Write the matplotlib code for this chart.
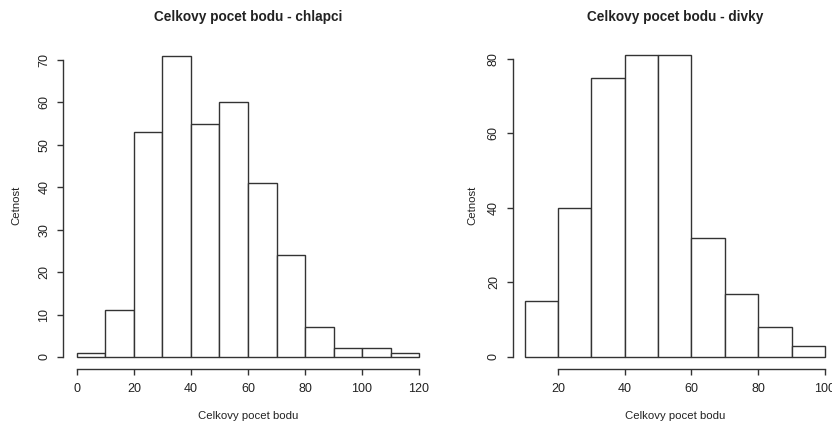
import matplotlib
matplotlib.use("Agg")
from matplotlib import pyplot as plt
import numpy as np

plt.rcParams['font.family'] = ['Liberation Sans', 'DejaVu Sans']

# histogram counts (bins of width 10)
boys_edges = [0, 10, 20, 30, 40, 50, 60, 70, 80, 90, 100, 110, 120]
boys_counts = [1, 11, 53, 71, 55, 60, 41, 24, 7, 2, 2, 1]
boys_xticks = [0, 20, 40, 60, 80, 100, 120]
boys_yticks = [0, 10, 20, 30, 40, 50, 60, 70]

girls_edges = [10, 20, 30, 40, 50, 60, 70, 80, 90, 100]
girls_counts = [15, 40, 75, 81, 81, 32, 17, 8, 3]
girls_xticks = [20, 40, 60, 80, 100]
girls_yticks = [0, 20, 40, 60, 80]

W, H = 832, 423
fig = plt.figure(figsize=(W / 100, H / 100), dpi=100)
fig.patch.set_facecolor('white')

txt_col = '#222222'
line_col = '#333333'


def r_hist(box, edges, counts, xticks, yticks, title, ylab_x):
    # box in pixels: left, top, right, bottom of R plot region
    l, t, r, b = box
    ax = fig.add_axes([l / W, 1 - b / H, (r - l) / W, (b - t) / H])
    edges = np.asarray(edges)
    widths = np.diff(edges)
    ax.bar(edges[:-1], counts, width=widths, align='edge', color='white',
           edgecolor=line_col, linewidth=1.0)
    xr = edges[-1] - edges[0]
    ax.set_xlim(edges[0] - 0.04 * xr, edges[-1] + 0.04 * xr)
    ymax = max(counts)
    ax.set_ylim(-0.04 * ymax, ymax * 1.04)
    for s in ['top', 'right']:
        ax.spines[s].set_visible(False)
    ax.spines['left'].set_bounds(yticks[0], yticks[-1])
    ax.spines['bottom'].set_bounds(xticks[0], xticks[-1])
    for s in ['left', 'bottom']:
        ax.spines[s].set_color(line_col)
        ax.spines[s].set_linewidth(1.0)
    ax.set_xticks(xticks)
    ax.set_yticks(yticks)
    ax.set_yticklabels([str(v) for v in yticks], rotation=90, va='center')
    ax.tick_params(axis='x', length=4.2, width=1.0, color=line_col, pad=6,
                   labelsize=9, labelcolor=txt_col)
    ax.tick_params(axis='y', length=4.2, width=1.0, color=line_col, pad=5,
                   labelsize=9, labelcolor=txt_col)
    cx = (l + r) / 2
    fig.text(cx / W, 1 - 17 / H, title, ha='center', va='center',
             fontsize=9.8, fontweight='bold', color=txt_col)
    fig.text(cx / W, 1 - 416 / H, 'Celkovy pocet bodu', ha='center',
             va='center', fontsize=8.2, color=txt_col)
    fig.text(ylab_x / W, 1 - 205 / H, 'Cetnost', ha='center', va='center',
             rotation=90, fontsize=8.2, color=txt_col)
    return ax


r_hist((63.3, 43.7, 432.7, 369.0), boys_edges, boys_counts, boys_xticks,
       boys_yticks, 'Celkovy pocet bodu - chlapci', 16)
r_hist((512.6, 43.2, 837.0, 369.0), girls_edges, girls_counts, girls_xticks,
       girls_yticks, 'Celkovy pocet bodu - divky', 472)

fig.savefig('out.png', dpi=100)
